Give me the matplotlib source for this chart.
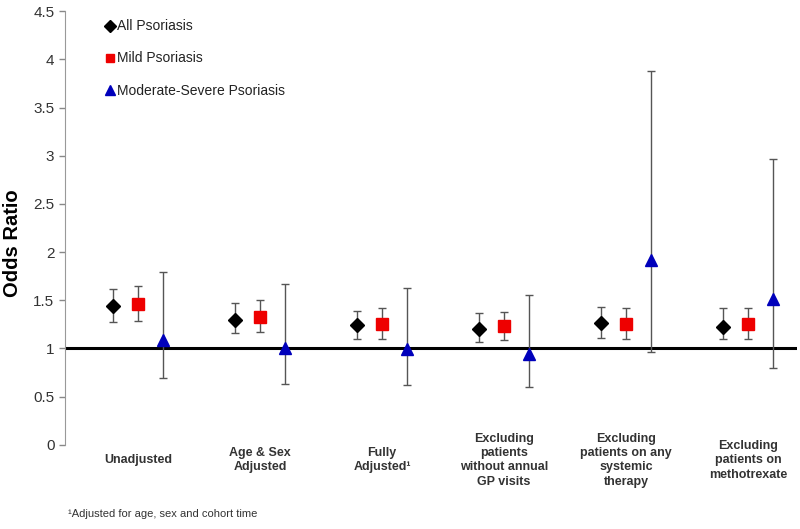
import matplotlib
matplotlib.use('Agg')
import matplotlib.pyplot as plt
from matplotlib.lines import Line2D
import numpy as np

plt.rcParams['font.family'] = ['Liberation Sans', 'DejaVu Sans']

categories = ['Unadjusted', 'Age & Sex\nAdjusted', 'Fully\nAdjusted\u00b9',
              'Excluding\npatients\nwithout annual\nGP visits',
              'Excluding\npatients on any\nsystemic\ntherapy',
              'Excluding\npatients on\nmethotrexate']

all_or = [1.44, 1.30, 1.24, 1.20, 1.26, 1.22]
all_lo = [1.28, 1.16, 1.10, 1.07, 1.11, 1.10]
all_hi = [1.62, 1.47, 1.39, 1.37, 1.43, 1.42]

mild_or = [1.46, 1.33, 1.25, 1.23, 1.25, 1.25]
mild_lo = [1.29, 1.17, 1.10, 1.09, 1.10, 1.10]
mild_hi = [1.65, 1.50, 1.42, 1.38, 1.42, 1.42]

mod_or = [1.09, 1.01, 0.99, 0.94, 1.92, 1.51]
mod_lo = [0.69, 0.63, 0.62, 0.60, 0.965, 0.80]
mod_hi = [1.79, 1.67, 1.63, 1.55, 3.88, 2.97]

series = [
    ('All Psoriasis', all_or, all_lo, all_hi, 'D', 'black', 7.5, -0.205),
    ('Mild Psoriasis', mild_or, mild_lo, mild_hi, 's', '#ee0000', 8.5, 0.0),
    ('Moderate-Severe Psoriasis', mod_or, mod_lo, mod_hi, '^', '#0000bb', 9, 0.205),
]

narrow = ['Liberation Sans Narrow', 'Liberation Sans', 'DejaVu Sans']

fig = plt.figure(figsize=(8, 5.29), dpi=100)
ax = fig.add_axes([0.081, 0.159, 0.915, 0.82])

x = np.arange(len(categories))
ax.axhline(1, color='black', lw=2.2, zorder=2)

handles = []
for name, val, lo, hi, mk, col, ms, off in series:
    val = np.array(val)
    err = [val - np.array(lo), np.array(hi) - val]
    ax.errorbar(x + off, val, yerr=err, fmt='none', ecolor='#555555',
                elinewidth=1, capsize=3, capthick=1, zorder=3)
    ax.plot(x + off, val, ls='none', marker=mk, color=col, ms=ms, zorder=4)
    handles.append(Line2D([], [], ls='none', marker=mk, color=col,
                          ms=ms * 0.75, label=name))

ax.set_xlim(-0.6, 5.4)
ax.set_ylim(0, 4.5)
ax.set_yticks(np.arange(0, 4.51, 0.5))
ax.set_yticklabels(['0', '0.5', '1', '1.5', '2', '2.5', '3', '3.5', '4', '4.5'])
ax.tick_params(axis='y', colors='#888888', labelcolor='#333333', labelsize=11,
               length=4, width=1)
ax.set_xticks([])
for s in ['top', 'right', 'bottom']:
    ax.spines[s].set_visible(False)
ax.spines['left'].set_color('#999999')
ax.set_ylabel('Odds Ratio', fontsize=14.5, fontweight='bold')
ax.yaxis.set_label_coords(-0.059, 0.465)

for xi, lab in zip(x, categories):
    ax.text(xi, -0.16, lab, ha='center', va='center', fontsize=9,
            fontweight='bold', color='#333333', linespacing=1.25,
            family=narrow, clip_on=False)

leg = ax.legend(handles=handles, loc='upper left', bbox_to_anchor=(0.045, 1.0),
                frameon=False, fontsize=10, handlelength=0.6, handletextpad=0.2,
                labelspacing=1.3, borderaxespad=0.2)
for t in leg.get_texts():
    t.set_color('#222222')

fig.text(0.085, 0.022, '\u00b9Adjusted for age, sex and cohort time', fontsize=8,
         color='#333333', family=narrow)

fig.savefig('out.png', dpi=100)
